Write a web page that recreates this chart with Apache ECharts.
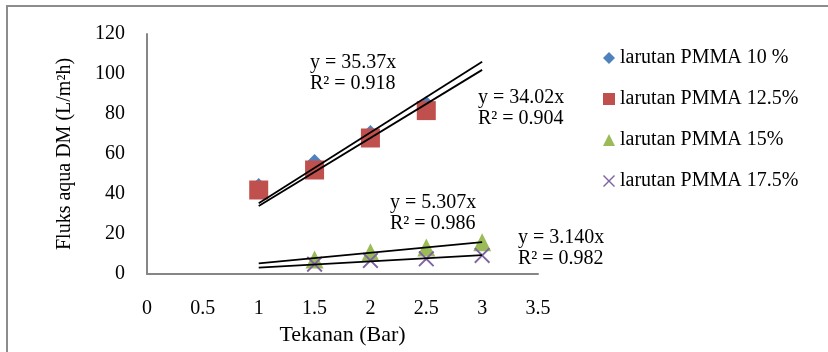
<!DOCTYPE html>
<html>
<head>
<meta charset="utf-8">
<script src="https://cdn.jsdelivr.net/npm/echarts@6/dist/echarts.min.js"></script>
<style>
  html, body { margin: 0; padding: 0; background: #fff; }
  #chart { width: 828px; height: 352px; }
</style>
</head>
<body>
<div id="chart"></div>
<script>
// pressure (Bar) for each series
const xHigh = [1, 1.5, 2, 2.5];
const xLow = [1.5, 2, 2.5, 3];

const seriesNames = ["larutan PMMA 10 %", "larutan PMMA 12.5%", "larutan PMMA 15%", "larutan PMMA 17.5%"];
const pmma10 = [44, 56, 70.5, 85];
const pmma125 = [42, 52, 68, 81.7];
const pmma15 = [7.3, 10.9, 13.2, 15.9];
const pmma175 = [4.9, 6.8, 7.6, 9.3];

// trendline slopes (y = a·x) and R² shown on the chart
const slopes = [35.37, 34.02, 5.307, 3.140];
const slopeText = ["35.37", "34.02", "5.307", "3.140"];
const r2Text = ["0.918", "0.904", "0.986", "0.982"];
const trendRange = [1, 3];

const colors = ["#4F81BD", "#C0504D", "#9BBB59", "#8064A2"];
const font = "'Liberation Serif', 'Times New Roman', serif";

const xShape = "path://M0,1L1,0L6,5L11,0L12,1L7,6L12,11L11,12L6,7L1,12L0,11L5,6Z";
const symbols = ["diamond", "rect", "triangle", xShape];
const symbolSizes = [16, 19, 18, 16];

const pts = (xs, ys) => xs.map((x, i) => [x, ys[i]]);
const allData = [pts(xHigh, pmma10), pts(xHigh, pmma125), pts(xLow, pmma15), pts(xLow, pmma175)];

const series = [];
allData.forEach((d, i) => {
    series.push({
        name: seriesNames[i],
        type: "scatter",
        data: d,
        symbol: symbols[i],
        symbolSize: symbolSizes[i],
        itemStyle: { color: colors[i], opacity: 1 },
        z: 2
    });
});
slopes.forEach((a, i) => {
    series.push({
        name: "trend" + i,
        type: "line",
        data: trendRange.map(x => [x, a * x]),
        symbol: "none",
        silent: true,
        lineStyle: { color: "#000", width: 1.8 },
        z: 3
    });
});

// equation label positions (left, top of first line)
const eqPos = [[310, 52], [478, 87], [390, 192], [518, 227]];

const graphics = [{
    type: "rect",
    shape: { x: 7, y: 6, width: 900, height: 400 },
    style: { fill: "none", stroke: "#8c8c8c", lineWidth: 2 },
    silent: true
}];
eqPos.forEach((p, i) => {
    graphics.push({
        type: "text",
        left: p[0],
        top: p[1],
        style: {
            text: "y = " + slopeText[i] + "x\nR² = " + r2Text[i],
            font: "20px " + font,
            fill: "#000",
            lineHeight: 21
        }
    });
});

const option = {
    animation: false,
    backgroundColor: "#fff",
    grid: { left: 147, top: 34, width: 391, height: 240 },
    xAxis: {
        type: "value",
        min: 0, max: 3.5, interval: 0.5,
        name: "Tekanan (Bar)",
        nameLocation: "middle",
        nameGap: 49,
        nameTextStyle: { fontFamily: font, fontSize: 22, color: "#000" },
        axisLine: { show: true, onZero: false, lineStyle: { color: "#868686", width: 2 } },
        axisTick: { show: false },
        splitLine: { show: false },
        axisLabel: { fontFamily: font, fontSize: 20, color: "#000", margin: 25 }
    },
    yAxis: {
        type: "value",
        min: 0, max: 120, interval: 20,
        name: "Fluks aqua DM (L/m²h)",
        nameLocation: "middle",
        nameRotate: 90,
        nameGap: 72,
        nameTextStyle: { fontFamily: font, fontSize: 20, color: "#000" },
        axisLine: { show: true, lineStyle: { color: "#868686", width: 2 } },
        axisTick: { show: false },
        splitLine: { show: false },
        axisLabel: { fontFamily: font, fontSize: 20, color: "#000", margin: 22, padding: [5, 0, 0, 0] }
    },
    legend: {
        orient: "vertical",
        left: 603,
        top: 48,
        padding: 0,
        itemWidth: 12,
        itemHeight: 12,
        itemGap: 21,
        data: seriesNames,
        textStyle: { fontFamily: font, fontSize: 20, color: "#000", lineHeight: 20 }
    },
    graphic: graphics,
    series: series
};

window.addEventListener("load", () => {
    const chart = echarts.init(document.getElementById("chart"));
    chart.setOption(option);
});
</script>
</body>
</html>
